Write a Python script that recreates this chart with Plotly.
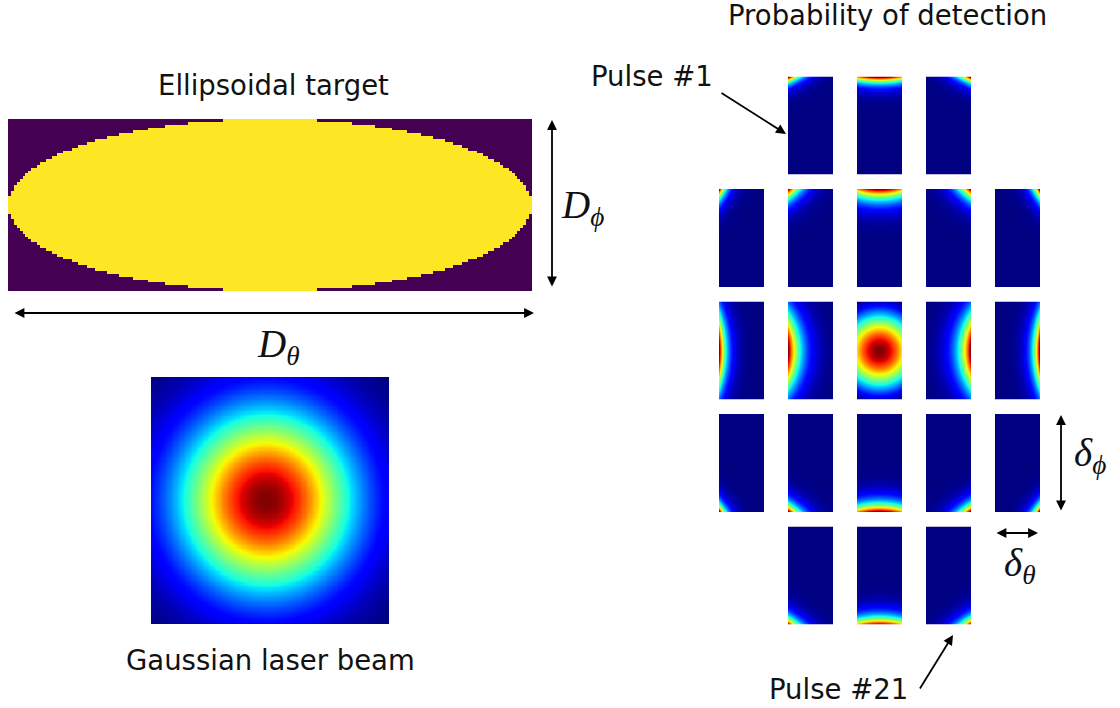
import numpy as np
import plotly.graph_objects as go

W, H = 1120, 708

# ---------------- data ----------------
# Ellipsoidal target mask resolution (theta x phi cells)
target_cells_theta = 180
target_cells_phi = 60

# Gaussian laser beam: window spans [-1, 1] in both directions
beam_cells = 200
beam_sigma = 0.5
beam_center_theta = -0.03
beam_center_phi = 0.0

# Pulse grid: columns present in each row (21 pulses in total)
pulse_columns = [[1, 2, 3], [0, 1, 2, 3, 4], [0, 1, 2, 3, 4], [0, 1, 2, 3, 4], [1, 2, 3]]
# Beam centre seen from each pulse window; window spans +-22.5 (theta) and +-49 (phi)
offset_theta = [-133, -80, 0, 80, 133]
offset_phi = [-174, -115, 0, 130, 137]
pulse_sigma = 28.0
window_half_theta = 22.5
window_half_phi = 49.0

# ---------------- colour maps ----------------
def jet_scale(n=101):
    t = np.linspace(0, 1, n)
    r = np.interp(t, [0, 0.35, 0.66, 0.89, 1], [0, 0, 1, 1, 0.5])
    g = np.interp(t, [0, 0.125, 0.375, 0.64, 0.91, 1], [0, 0, 1, 1, 0, 0])
    b = np.interp(t, [0, 0.11, 0.34, 0.65, 1], [0.5, 1, 1, 0, 0])
    return [[float(ti), f"rgb({int(round(ri*255))},{int(round(gi*255))},{int(round(bi*255))})"]
            for ti, ri, gi, bi in zip(t, r, g, b)]

JET = jet_scale()
BINARY_VIRIDIS = [[0, "#440154"], [1, "#fde725"]]

fig = go.Figure()
axis_count = [0]


def add_panel(z, x, y, xrange, yrange, box, colorscale, smooth=False):
    """Place a heatmap in its own axes covering the pixel box (x0, y0, x1, y1)."""
    axis_count[0] += 1
    n = axis_count[0]
    suffix = "" if n == 1 else str(n)
    x0, y0, x1, y1 = box
    fig.add_trace(go.Heatmap(
        z=z, x=x, y=y, colorscale=colorscale, zmin=0, zmax=1, showscale=False,
        zsmooth="best" if smooth else False, hoverinfo="skip",
        xaxis="x" + suffix, yaxis="y" + suffix))
    common = dict(visible=False, showgrid=False, zeroline=False, fixedrange=True)
    fig.layout["xaxis" + suffix] = dict(domain=[x0 / W, x1 / W], range=xrange,
                                        anchor="y" + suffix, **common)
    fig.layout["yaxis" + suffix] = dict(domain=[1 - y1 / H, 1 - y0 / H], range=yrange,
                                        anchor="x" + suffix, **common)


def normalise(v):
    return (v - v.min()) / (v.max() - v.min())


# Ellipsoidal target (binary mask on a coarse grid)
ct = np.arange(target_cells_theta) - (target_cells_theta - 1) / 2
cp = np.arange(target_cells_phi) - (target_cells_phi - 1) / 2
TT, PP = np.meshgrid(ct, cp)
mask = ((TT / (target_cells_theta / 2)) ** 2 + (PP / (target_cells_phi / 2)) ** 2 <= 1).astype(float)
add_panel(mask, ct, cp,
          [ct[0] - 0.5, ct[-1] + 0.5], [cp[0] - 0.5, cp[-1] + 0.5],
          (8, 119, 532, 291), BINARY_VIRIDIS)

# Gaussian laser beam
bc = np.linspace(-1, 1, beam_cells)
BX, BY = np.meshgrid(bc, bc)
beam = np.exp(-((BX - beam_center_theta) ** 2 + (BY - beam_center_phi) ** 2) / (2 * beam_sigma ** 2))
add_panel(normalise(beam), bc, bc, [-1, 1], [-1, 1], (151, 377, 389, 624), JET)

# Probability of detection for each pulse window
col_left = [719, 788, 857, 926, 995]
row_top = [76.5, 189, 301.5, 414, 526.5]
pw, ph = 45, 98
u = np.linspace(-window_half_theta + 0.5, window_half_theta - 0.5, 45)
v = np.linspace(-window_half_phi + 0.5, window_half_phi - 0.5, 98)
U, V = np.meshgrid(u, v)
for r, cols in enumerate(pulse_columns):
    for c in cols:
        g = np.exp(-((U - offset_theta[c]) ** 2 + (V - offset_phi[r]) ** 2) / (2 * pulse_sigma ** 2))
        x0, y0 = col_left[c], row_top[r]
        add_panel(normalise(g), u, v,
                  [-window_half_theta, window_half_theta], [window_half_phi, -window_half_phi],
                  (x0, y0, x0 + pw, y0 + ph), JET)

# ---------------- text and arrows ----------------
def px(x):
    return x / W


def py(y):
    return 1 - y / H


SANS = dict(family="DejaVu Sans", size=27.5, color="#111111")
MATH = dict(family="Liberation Serif", size=39, color="#111111")

labels = [
    ("Ellipsoidal target", 273, 85, "center"),
    ("Gaussian laser beam", 270, 660, "center"),
    ("Probability of detection", 887, 15, "center"),
    ("Pulse #1", 652, 76, "center"),
    ("Pulse #21", 838, 689, "center"),
]
for text, x, y, xa in labels:
    fig.add_annotation(x=px(x), y=py(y), xref="paper", yref="paper", text=text,
                       showarrow=False, xanchor=xa, yanchor="middle", font=SANS)

math_labels = [
    ("<i>D</i><sub><i>ϕ</i></sub>", 559, 207, "left"),
    ("<i>D</i><sub><i>θ</i></sub>", 278, 346, "center"),
    ("<i>δ</i><sub><i>ϕ</i></sub>", 1072, 456, "left"),
    ("<i>δ</i><sub><i>θ</i></sub>", 1002, 565, "left"),
]
for text, x, y, xa in math_labels:
    fig.add_annotation(x=px(x), y=py(y), xref="paper", yref="paper", text=text,
                       showarrow=False, xanchor=xa, yanchor="middle", font=MATH)

arrows = [
    # head x, head y, tail dx, tail dy, both ends
    (552, 120, 0, 168, True),
    (534, 313, -521, 0, True),
    (1061, 415, 0, 97, True),
    (1038, 533, -43, 0, True),
    (786, 134, -66, -42, False),
    (953, 635, -34, 55, False),
]
for hx, hy, dx, dy, both in arrows:
    fig.add_annotation(x=px(hx), y=py(hy), xref="paper", yref="paper", text="",
                       showarrow=True, ax=dx, ay=dy, arrowhead=2, arrowsize=1.1,
                       arrowwidth=1.8, arrowcolor="#000000", standoff=0, startstandoff=0,
                       startarrowhead=2, startarrowsize=1.1,
                       arrowside="end+start" if both else "end")

fig.update_layout(width=W, height=H, margin=dict(l=0, r=0, t=0, b=0),
                  paper_bgcolor="white", plot_bgcolor="white", showlegend=False)

fig.write_html("out.html")
